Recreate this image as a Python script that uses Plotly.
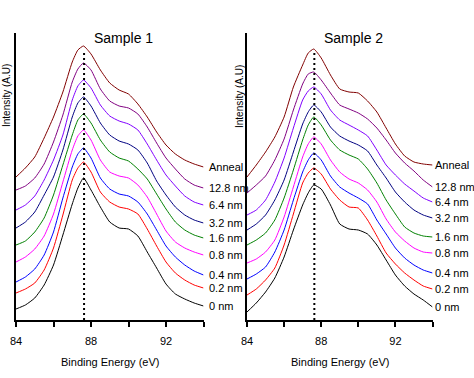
import plotly.graph_objects as go

# Binding energy grid (eV)
E = [84, 84.5, 85, 85.5, 86, 86.5, 87, 87.3, 87.6, 88, 88.5, 89, 89.5, 90, 90.5, 91, 91.5, 92, 92.5, 93, 93.5, 94]

LABELS = ["0 nm", "0.2 nm", "0.4 nm", "0.8 nm", "1.6 nm", "3.2 nm", "6.4 nm", "12.8 nm", "Anneal"]
COLORS = ["#000000", "#FF0000", "#0000FF", "#FF00FF", "#008000", "#000080", "#8000FF", "#800080", "#800000"]

PEAK_E = 87.63

# Sample 1 (stacked intensities, arbitrary units)
S1_0NM = [11, 15, 22, 35, 55, 85, 116, 132, 142, 130, 113, 98, 92, 91, 84, 68, 52, 36, 26, 21, 17, 14]
S1_02NM = [27, 31, 37, 50, 72, 105, 140, 152, 158, 148, 128, 118, 113, 111, 106, 91, 74, 58, 47, 40, 35, 32]
S1_04NM = [38, 43, 51, 65, 88, 122, 153, 166, 172, 162, 142, 131, 126, 124, 118, 106, 90, 74, 63, 55, 49, 45]
S1_08NM = [58, 63, 71, 84, 106, 138, 170, 184, 190, 180, 160, 148, 144, 142, 135, 123, 106, 89, 78, 72, 68, 65]
S1_16NM = [75, 79, 88, 102, 125, 155, 185, 200, 206, 197, 180, 168, 162, 159, 151, 141, 126, 111, 98, 90, 85, 82]
S1_32NM = [92, 98, 108, 125, 143, 170, 203, 217, 223, 214, 197, 185, 179, 176, 170, 157, 139, 125, 113, 105, 100, 97]
S1_64NM = [110, 115, 124, 140, 160, 185, 220, 234, 240, 232, 215, 204, 199, 196, 190, 176, 160, 145, 134, 124, 118, 115]
S1_128NM = [130, 134, 142, 156, 178, 205, 238, 251, 257, 250, 231, 219, 214, 212, 206, 193, 177, 162, 151, 141, 135, 132]
S1_ANNEAL = [143, 152, 163, 182, 203, 228, 258, 270, 274, 266, 250, 237, 230, 226, 216, 203, 188, 175, 166, 160, 156, 153]

# Sample 2
S2_0NM = [8, 17, 28, 42, 63, 90, 115, 127, 135, 131, 115, 96, 91, 90, 86, 75, 60, 45, 34, 26, 20, 13]
S2_02NM = [25, 31, 40, 52, 75, 106, 137, 147, 152, 146, 131, 120, 113, 112, 100, 84, 67, 56, 47, 40, 34, 31]
S2_04NM = [41, 46, 53, 68, 90, 120, 148, 160, 167, 160, 144, 133, 127, 122, 116, 100, 86, 72, 62, 55, 50, 47]
S2_08NM = [57, 61, 68, 80, 103, 133, 163, 176, 183, 176, 160, 148, 141, 137, 130, 118, 101, 88, 79, 72, 68, 67]
S2_16NM = [75, 80, 87, 100, 122, 150, 180, 195, 203, 195, 180, 170, 165, 161, 151, 137, 120, 106, 93, 87, 84, 83]
S2_32NM = [90, 96, 105, 120, 140, 168, 196, 208, 215, 208, 193, 184, 179, 175, 169, 155, 142, 128, 118, 110, 105, 102]
S2_64NM = [105, 110, 120, 138, 162, 192, 220, 229, 233, 226, 210, 200, 195, 190, 184, 170, 155, 145, 136, 129, 122, 118]
S2_128NM = [127, 135, 144, 160, 181, 210, 236, 246, 248, 240, 227, 215, 211, 207, 201, 192, 180, 167, 157, 149, 140, 133]
S2_ANNEAL = [143, 155, 168, 183, 203, 233, 255, 267, 271, 262, 245, 231, 228, 227, 219, 208, 192, 176, 164, 158, 156, 155]

SAMPLE1 = [S1_0NM, S1_02NM, S1_04NM, S1_08NM, S1_16NM, S1_32NM, S1_64NM, S1_128NM, S1_ANNEAL]
SAMPLE2 = [S2_0NM, S2_02NM, S2_04NM, S2_08NM, S2_16NM, S2_32NM, S2_64NM, S2_128NM, S2_ANNEAL]

W, H = 474, 378
FONT = "Arial, Liberation Sans, sans-serif"


def px(xr):
    return xr / W


def py(yr):
    return (H - yr) / H


fig = go.Figure()
annotations = []
shapes = []

panels = [("x", "y", SAMPLE1, "Sample 1", 3, 6), ("x2", "y2", SAMPLE2, "Sample 2", 0, 239)]
for xa, ya, curves, title, lshift, ytx in panels:
    for vals, col, lab in zip(curves, COLORS, LABELS):
        fig.add_trace(go.Scatter(x=E, y=vals, mode="lines", xaxis=xa, yaxis=ya,
                                 line=dict(color=col, width=1, shape="spline", smoothing=0.5),
                                 showlegend=False, hoverinfo="skip"))
        annotations.append(dict(x=E[-1], y=vals[-1], xref=xa, yref=ya, text=lab,
                                showarrow=False, xanchor="left", yanchor="middle",
                                xshift=lshift, font=dict(size=11, color="#000", family=FONT)))
    shapes.append(dict(type="line", xref=xa, yref=ya, x0=PEAK_E, x1=PEAK_E,
                       y0=0, y1=max(curves[-1]) - 4,
                       line=dict(color="black", width=2, dash="2px,3px")))
    dom = xa + " domain"
    annotations.append(dict(x=0.576, y=py(38), xref=dom, yref="paper", text=title,
                            showarrow=False, xanchor="center", yanchor="middle",
                            font=dict(size=14, color="#000", family=FONT)))
    annotations.append(dict(x=0.5, y=py(362), xref=dom, yref="paper",
                            text="Binding Energy (eV)", showarrow=False,
                            xanchor="center", yanchor="middle",
                            font=dict(size=11, color="#000", family=FONT)))
    annotations.append(dict(x=px(ytx), y=py(96), xref="paper", yref="paper",
                            text="Intensity (A.U)", textangle=-90, showarrow=False,
                            xanchor="center", yanchor="middle",
                            font=dict(size=10, color="#000", family=FONT)))

xcommon = dict(range=[84, 94], tickvals=[84, 86, 88, 90, 92, 94],
               ticktext=["84", "", "88", "", "92", ""], ticks="outside", ticklen=5,
               tickwidth=1.5, tickcolor="black", showline=True, linewidth=1.5,
               linecolor="black", showgrid=False, zeroline=False, automargin=False,
               ticklabelstandoff=5,
               tickfont=dict(size=11, color="#000", family=FONT))
ycommon = dict(range=[0, 287], showticklabels=False, ticks="", showline=True,
               linewidth=1.5, linecolor="black", showgrid=False, zeroline=False,
               automargin=False, domain=[py(320), py(33)])

fig.update_layout(
    template="none",
    width=W, height=H, margin=dict(l=0, r=0, t=0, b=0, pad=0), autosize=False,
    paper_bgcolor="white", plot_bgcolor="white",
    xaxis=dict(xcommon, domain=[px(16), px(203.5)], anchor="y"),
    yaxis=dict(ycommon, anchor="x"),
    xaxis2=dict(xcommon, domain=[px(247), px(432.5)], anchor="y2"),
    yaxis2=dict(ycommon, anchor="x2"),
    annotations=annotations, shapes=shapes,
)

# Remove the browser's default 8px body margin so the figure sits at the page origin
fig.write_html("out.html", config={"displayModeBar": False},
               post_script="document.body.style.margin='0px';document.body.style.overflow='hidden';")
